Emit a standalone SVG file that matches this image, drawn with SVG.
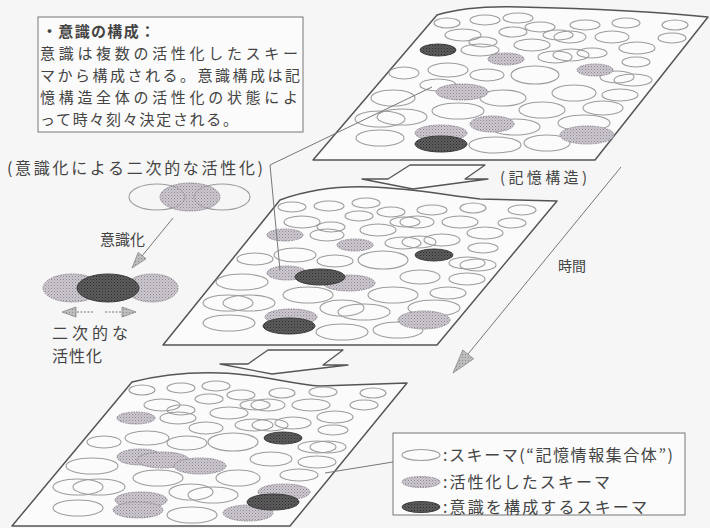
<svg xmlns="http://www.w3.org/2000/svg" width="710" height="528" viewBox="0 0 710 528">
<defs>
<pattern id="pAct" width="3" height="3" patternUnits="userSpaceOnUse"><rect width="3" height="3" fill="#cdc7cf"/><rect width="1" height="1" fill="#8e8991"/><rect x="1.5" y="1.5" width="1" height="1" fill="#a39ea6"/></pattern>
<pattern id="pCon" width="3" height="3" patternUnits="userSpaceOnUse"><rect width="3" height="3" fill="#5e5c5e"/><rect width="1" height="1" fill="#2c2c2c"/><rect x="1.5" y="1.5" width="1" height="1" fill="#3a3a3a"/></pattern>
<pattern id="pArr" width="3" height="3" patternUnits="userSpaceOnUse"><rect width="3" height="3" fill="#bdbdbd"/><rect width="1" height="1" fill="#8a8a8a"/></pattern>
<clipPath id="cMid"><ellipse cx="190" cy="197" rx="30" ry="14"/></clipPath>
<style>
.sc{fill:none;stroke:#9c9c9c;stroke-width:1.1}
.act{fill:url(#pAct);stroke:#8c8690;stroke-width:1;stroke-dasharray:1.5 1}
.con{fill:url(#pCon);stroke:#3c3c3c;stroke-width:1}
.plane{fill:#fbfbfb;stroke:#555;stroke-width:1.5;stroke-linejoin:round}
.t{font-family:"Noto Sans CJK JP","Noto Sans",sans-serif;fill:#444}
.ln{fill:none;stroke:#777;stroke-width:1}
.blk{fill:#fbfbfb;stroke:#555;stroke-width:1.3;stroke-linejoin:round}
.ah{fill:url(#pArr);stroke:#888;stroke-width:0.8}
</style>
</defs>
<rect width="710" height="528" fill="#f6f6f6"/>

<g id="plane-top">
<path class="plane" d="M437,15 C460,8 490,6 520,7 C570,8 640,10 708,17 L595,160 L313,160 Z"/>
<g class="sc">
<ellipse cx="447" cy="23" rx="13" ry="5"/><ellipse cx="485" cy="20" rx="15" ry="5"/><ellipse cx="518" cy="18" rx="15" ry="5"/><ellipse cx="540" cy="27" rx="15" ry="5"/><ellipse cx="585" cy="25" rx="15" ry="5"/><ellipse cx="626" cy="23" rx="14" ry="5"/><ellipse cx="675" cy="25" rx="13" ry="5"/>
<ellipse cx="463" cy="35" rx="18" ry="6"/><ellipse cx="513" cy="32" rx="14" ry="5"/><ellipse cx="558" cy="35" rx="15" ry="5"/><ellipse cx="570" cy="37" rx="16" ry="6"/><ellipse cx="612" cy="37" rx="17" ry="6"/><ellipse cx="672" cy="38" rx="14" ry="5"/>
<ellipse cx="483" cy="42" rx="14" ry="5"/><ellipse cx="480" cy="50" rx="19" ry="6"/><ellipse cx="532" cy="45" rx="18" ry="6"/><ellipse cx="555" cy="57" rx="17" ry="6"/><ellipse cx="571" cy="55" rx="18" ry="6"/><ellipse cx="592" cy="53" rx="15" ry="5"/><ellipse cx="637" cy="48" rx="18" ry="6"/><ellipse cx="636" cy="62" rx="14" ry="5"/>
<ellipse cx="404" cy="73" rx="15" ry="6"/><ellipse cx="448" cy="70" rx="20" ry="7"/><ellipse cx="487" cy="75" rx="17" ry="6"/><ellipse cx="535" cy="75" rx="24" ry="9"/><ellipse cx="617" cy="77" rx="17" ry="6"/><ellipse cx="633" cy="80" rx="19" ry="6"/>
<ellipse cx="438" cy="85" rx="18" ry="6"/><ellipse cx="393" cy="98" rx="22" ry="8"/><ellipse cx="503" cy="98" rx="23" ry="8"/><ellipse cx="574" cy="93" rx="22" ry="8"/><ellipse cx="620" cy="95" rx="18" ry="6"/>
<ellipse cx="380" cy="119" rx="25" ry="8"/><ellipse cx="402" cy="117" rx="25" ry="8"/><ellipse cx="458" cy="111" rx="26" ry="8"/><ellipse cx="542" cy="110" rx="23" ry="8"/><ellipse cx="603" cy="108" rx="20" ry="7"/><ellipse cx="515" cy="127" rx="25" ry="8"/><ellipse cx="584" cy="123" rx="26" ry="8"/>
<ellipse cx="380" cy="138" rx="24" ry="8"/><ellipse cx="495" cy="145" rx="26" ry="8"/><ellipse cx="547" cy="143" rx="23" ry="8"/>
</g>
<g class="act">
<ellipse cx="506" cy="59" rx="18" ry="6"/><ellipse cx="595" cy="70" rx="18" ry="6"/><ellipse cx="462" cy="92" rx="26" ry="8"/><ellipse cx="492" cy="124" rx="22" ry="8"/><ellipse cx="441" cy="133" rx="26" ry="8"/><ellipse cx="587" cy="135" rx="27" ry="9"/>
</g>
<g class="con"><ellipse cx="438" cy="50" rx="18" ry="6"/><ellipse cx="441" cy="144" rx="26" ry="8"/></g>
</g>

<g id="plane-middle">
<path class="plane" d="M280,200 C310,189 340,186 370,187 C410,188 445,195 480,199 L557,201 L437,345 L163,345 Z"/>
<g class="sc">
<ellipse cx="292" cy="207" rx="14" ry="5"/><ellipse cx="329" cy="206" rx="15" ry="5"/><ellipse cx="366" cy="203" rx="14" ry="5"/><ellipse cx="391" cy="212" rx="14" ry="5"/><ellipse cx="432" cy="210" rx="15" ry="5"/><ellipse cx="473" cy="208" rx="13" ry="5"/><ellipse cx="522" cy="210" rx="14" ry="5"/>
<ellipse cx="302" cy="222" rx="18" ry="6"/><ellipse cx="359" cy="216" rx="14" ry="5"/><ellipse cx="331" cy="227" rx="14" ry="5"/><ellipse cx="405" cy="222" rx="15" ry="5"/><ellipse cx="417" cy="222" rx="17" ry="6"/><ellipse cx="460" cy="222" rx="18" ry="6"/><ellipse cx="512" cy="223" rx="14" ry="5"/>
<ellipse cx="327" cy="235" rx="17" ry="6"/><ellipse cx="378" cy="230" rx="18" ry="6"/><ellipse cx="403" cy="243" rx="18" ry="6"/><ellipse cx="419" cy="242" rx="17" ry="6"/><ellipse cx="442" cy="240" rx="18" ry="6"/><ellipse cx="485" cy="233" rx="18" ry="6"/><ellipse cx="483" cy="248" rx="15" ry="5"/>
<ellipse cx="255" cy="259" rx="18" ry="6"/><ellipse cx="295" cy="255" rx="21" ry="7"/><ellipse cx="335" cy="261" rx="18" ry="6"/><ellipse cx="383" cy="260" rx="25" ry="9"/><ellipse cx="467" cy="263" rx="18" ry="6"/><ellipse cx="478" cy="265" rx="18" ry="6"/>
<ellipse cx="420" cy="277" rx="20" ry="7"/><ellipse cx="467" cy="279" rx="18" ry="6"/><ellipse cx="242" cy="282" rx="26" ry="8"/><ellipse cx="308" cy="295" rx="25" ry="8"/><ellipse cx="393" cy="295" rx="25" ry="8"/><ellipse cx="448" cy="293" rx="18" ry="6"/>
<ellipse cx="228" cy="303" rx="25" ry="8"/><ellipse cx="249" cy="303" rx="26" ry="8"/><ellipse cx="342" cy="308" rx="22" ry="8"/><ellipse cx="364" cy="312" rx="26" ry="8"/><ellipse cx="434" cy="308" rx="26" ry="8"/>
<ellipse cx="229" cy="323" rx="26" ry="8"/><ellipse cx="342" cy="332" rx="26" ry="8"/><ellipse cx="398" cy="330" rx="25" ry="8"/>
</g>
<g class="act">
<ellipse cx="285" cy="235" rx="18" ry="6"/><ellipse cx="355" cy="245" rx="18" ry="6"/><ellipse cx="287" cy="273" rx="20" ry="7"/><ellipse cx="349" cy="283" rx="26" ry="8"/><ellipse cx="291" cy="317" rx="26" ry="8"/><ellipse cx="424" cy="320" rx="26" ry="9"/>
</g>
<g class="con"><ellipse cx="434" cy="255" rx="19" ry="6"/><ellipse cx="320" cy="277" rx="25" ry="8"/><ellipse cx="289" cy="326" rx="26" ry="8"/></g>
</g>

<g id="plane-bottom">
<path class="plane" d="M132,382 C160,375 190,372 220,373 C260,374 290,384 320,386 L407,383 L290,526 L12,526 Z"/>
<g class="sc">
<ellipse cx="142" cy="390" rx="13" ry="5"/><ellipse cx="181" cy="388" rx="14" ry="5"/><ellipse cx="216" cy="386" rx="14" ry="5"/><ellipse cx="241" cy="395" rx="14" ry="5"/><ellipse cx="282" cy="393" rx="13" ry="5"/><ellipse cx="323" cy="392" rx="14" ry="5"/><ellipse cx="373" cy="393" rx="13" ry="5"/>
<ellipse cx="162" cy="405" rx="18" ry="6"/><ellipse cx="209" cy="399" rx="14" ry="5"/><ellipse cx="181" cy="410" rx="14" ry="5"/><ellipse cx="229" cy="413" rx="19" ry="6"/><ellipse cx="255" cy="405" rx="15" ry="5"/><ellipse cx="268" cy="405" rx="17" ry="6"/><ellipse cx="311" cy="405" rx="19" ry="6"/><ellipse cx="364" cy="405" rx="14" ry="5"/>
<ellipse cx="178" cy="418" rx="18" ry="6"/><ellipse cx="206" cy="428" rx="17" ry="6"/><ellipse cx="254" cy="425" rx="19" ry="6"/><ellipse cx="270" cy="425" rx="18" ry="6"/><ellipse cx="293" cy="423" rx="18" ry="6"/><ellipse cx="335" cy="417" rx="18" ry="6"/><ellipse cx="333" cy="430" rx="15" ry="5"/>
<ellipse cx="104" cy="442" rx="17" ry="6"/><ellipse cx="147" cy="438" rx="22" ry="7"/><ellipse cx="187" cy="443" rx="20" ry="7"/><ellipse cx="233" cy="442" rx="25" ry="9"/><ellipse cx="317" cy="447" rx="19" ry="6"/><ellipse cx="328" cy="447" rx="18" ry="6"/>
<ellipse cx="271" cy="459" rx="21" ry="7"/><ellipse cx="317" cy="462" rx="19" ry="6"/><ellipse cx="92" cy="466" rx="26" ry="8"/><ellipse cx="158" cy="478" rx="25" ry="8"/><ellipse cx="238" cy="478" rx="22" ry="8"/><ellipse cx="299" cy="475" rx="19" ry="6"/>
<ellipse cx="78" cy="487" rx="25" ry="8"/><ellipse cx="99" cy="487" rx="26" ry="8"/><ellipse cx="191" cy="492" rx="22" ry="8"/><ellipse cx="213" cy="495" rx="25" ry="8"/><ellipse cx="78" cy="508" rx="25" ry="8"/><ellipse cx="192" cy="515" rx="25" ry="8"/>
</g>
<g class="act">
<ellipse cx="136" cy="418" rx="19" ry="6"/><ellipse cx="140" cy="457" rx="23" ry="8"/><ellipse cx="163" cy="460" rx="26" ry="8"/><ellipse cx="200" cy="466" rx="26" ry="8"/><ellipse cx="284" cy="492" rx="26" ry="8"/><ellipse cx="141" cy="500" rx="26" ry="8"/><ellipse cx="138" cy="510" rx="25" ry="8"/><ellipse cx="248" cy="513" rx="25" ry="8"/>
</g>
<g class="con"><ellipse cx="283" cy="438" rx="19" ry="6"/><ellipse cx="273" cy="502" rx="26" ry="8"/></g>
</g>

<g id="note-box">
<rect x="38" y="17" width="265" height="115" fill="#fbfbfb" stroke="#777" stroke-width="1"/>
<text class="t" x="42" y="37" font-size="15" font-weight="bold" textLength="113">・意識の構成：</text>
<text class="t" x="40" y="59" font-size="15" textLength="258">意識は複数の活性化したスキー</text>
<text class="t" x="40" y="81" font-size="15" textLength="260">マから構成される。意識構成は記</text>
<text class="t" x="40" y="103" font-size="15" textLength="258">憶構造全体の活性化の状態によ</text>
<text class="t" x="40" y="125" font-size="15" textLength="198">って時々刻々決定される。</text>
</g>

<g id="secondary-label"><text class="t" x="7" y="174" font-size="16" textLength="256">(意識化による二次的な活性化)</text></g>

<g id="before-group">
<ellipse cx="157" cy="197" rx="28" ry="13" class="sc"/>
<ellipse cx="222" cy="197" rx="28" ry="13" class="sc"/>
<ellipse cx="190" cy="197" rx="30" ry="14" class="act"/>
<g clip-path="url(#cMid)" fill="none" stroke="#8c8690" stroke-dasharray="1.5 1"><ellipse cx="157" cy="197" rx="28" ry="13"/><ellipse cx="222" cy="197" rx="28" ry="13"/></g>
</g>
<g id="label-ishikika"><text class="t" x="100" y="245" font-size="15">意識化</text></g>
<g id="after-group">
<ellipse cx="72" cy="288" rx="29" ry="14" class="act"/>
<ellipse cx="152" cy="288" rx="26" ry="14" class="act"/>
<ellipse cx="108" cy="288" rx="31" ry="14" class="con"/>
</g>
<g id="label-secondary">
<text class="t" x="52" y="339" font-size="16" textLength="76">二次的な</text>
<text class="t" x="52" y="362" font-size="16" textLength="50">活性化</text>
</g>

<g id="label-memory"><text class="t" x="500" y="183" font-size="15" textLength="87">(記憶構造)</text></g>
<g id="label-time"><text class="t" x="558" y="271" font-size="14">時間</text></g>

<g id="legend">
<rect x="393" y="433" width="292" height="82" fill="#fbfbfb" stroke="#777" stroke-width="1"/>
<ellipse cx="421" cy="455" rx="19" ry="5.5" class="sc"/>
<ellipse cx="421" cy="482" rx="19" ry="5.5" class="act"/>
<ellipse cx="421" cy="507" rx="19" ry="5.5" class="con"/>
<text class="t" x="443" y="461" font-size="16" textLength="230">:スキーマ(“記憶情報集合体”)</text>
<text class="t" x="443" y="488" font-size="16" textLength="167">:活性化したスキーマ</text>
<text class="t" x="443" y="513" font-size="16" textLength="204">:意識を構成するスキーマ</text>
</g>

<g id="connectors">
<polygon class="blk" points="362,179 388,179 410,165 485,165 465,179 488,179 413,189"/>
<polygon class="blk" points="220,364 248,364 268,350 343,350 323,365 348,365 272,374"/>
<line class="ln" x1="621" y1="167" x2="468" y2="354" stroke="#666"/>
<polygon class="ah" points="453,373 473.6,358.8 462.8,350"/>
<line class="ln" x1="173" y1="218" x2="142" y2="256" stroke="#666"/>
<polygon class="ah" points="132,268 146,258.8 138.2,252.4"/>
<line class="ln" x1="93" y1="312" x2="75" y2="312" stroke-dasharray="2 1.5" stroke="#999"/>
<polygon class="ah" points="62,312 76,307 76,317"/>
<line class="ln" x1="105" y1="312" x2="123" y2="312" stroke-dasharray="2 1.5" stroke="#999"/>
<polygon class="ah" points="136,312 122,307 122,317"/>
<polyline class="ln" points="432,87 270,165 280,270"/>
<line class="ln" x1="325" y1="473" x2="393" y2="462"/>
</g>
</svg>
